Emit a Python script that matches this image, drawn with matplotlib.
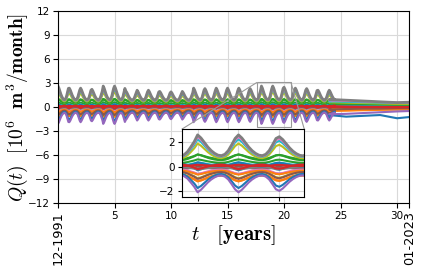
import numpy as np
import matplotlib
matplotlib.use("Agg")
import matplotlib.pyplot as plt
from mpl_toolkits.axes_grid1.inset_locator import mark_inset

plt.rcParams['mathtext.fontset'] = 'cm'

# ---- data ----
# seasonal shape within one year, month 0 = December (peak)
season_profile = [1.0, 0.86, 0.66, 0.46, 0.3, 0.18, 0.1, 0.08, 0.14, 0.3, 0.56, 0.84]
# relative strength of the seasonal swing for each year 0..23
year_scale = [1.0, 0.86, 0.86, 0.78, 1.0, 1.0, 0.67, 0.72, 0.72, 0.64, 0.61, 0.64,
              0.86, 0.83, 0.86, 0.86, 0.86, 0.83, 1.0, 1.0, 0.92, 0.86, 0.83, 0.72]
# per-series off-season level and seasonal swing (10^6 m^3/month)
series_base = [0.3, -0.6, 0.3, -0.1, -0.3, -0.2, -0.2, 0.0, -0.4, 0.1,
               0.0, -0.3, 0.6, -0.7, -0.4, 0.5,
               0.6, 0.7, 0.72, 0.76, -0.5, -0.6, 0.2, 0.05]
series_swing = [-0.6, -0.6, 0.3, 0.3, -0.3, 0.2, -0.4, -0.2, -0.55, 0.25,
                0.35, -0.35, 0.4, -0.5, -0.6, 0.5,
                1.3, 1.55, 1.72, 1.85, -1.25, -1.5, -0.4, 0.1]
series_color = ['C0', 'C1', 'C2', 'C3', 'C4', 'C5', 'C6', 'C7', 'C8', 'C9',
                'C0', 'C1', 'C2', 'C1', 'C5', 'C2',
                'C8', 'C9', 'C6', 'C7', 'C0', 'C4', 'C3', 'C3']
# late period (no seasonal swing) values at tail_years
tail_years = [24.0, 25.5, 27.0, 28.5, 30.0, 31.0833]
tail_values = [
    [0.2, 0.15, 0.1, 0.1, 0.05, 0.05],
    [-0.4, -0.4, -0.35, -0.3, -0.3, -0.25],
    [0.3, 0.25, 0.25, 0.2, 0.2, 0.2],
    [-0.05, -0.05, 0.0, 0.0, 0.0, 0.0],
    [-0.25, -0.2, -0.2, -0.15, -0.15, -0.1],
    [-0.15, -0.1, -0.1, -0.1, -0.05, -0.05],
    [-0.2, -0.15, -0.15, -0.1, -0.1, -0.1],
    [0.0, 0.0, 0.0, 0.0, 0.0, 0.0],
    [-0.35, -0.3, -0.3, -0.25, -0.2, -0.2],
    [0.1, 0.1, 0.05, 0.05, 0.05, 0.05],
    [0.0, 0.05, 0.05, 0.0, 0.0, 0.0],
    [-0.25, -0.2, -0.2, -0.15, -0.15, -0.15],
    [0.55, 0.5, 0.45, 0.4, 0.35, 0.35],
    [-0.5, -0.45, -0.4, -0.35, -0.3, -0.3],
    [-0.3, -0.25, -0.2, -0.2, -0.15, -0.15],
    [0.45, 0.4, 0.4, 0.35, 0.3, 0.3],
    [0.6, 0.55, 0.5, 0.45, 0.4, 0.4],
    [0.7, 0.65, 0.6, 0.55, 0.5, 0.5],
    [0.85, 0.75, 0.7, 0.6, 0.55, 0.55],
    [0.95, 0.85, 0.75, 0.65, 0.55, 0.6],
    [-1.0, -1.2, -1.1, -1.0, -1.4, -1.25],
    [-0.9, -0.85, -0.75, -0.65, -0.55, -0.5],
    [0.1, 0.05, 0.0, 0.0, -0.05, 0.0],
    [0.05, 0.0, 0.0, 0.0, 0.0, 0.0],
]
x_tick_vals = [0, 5, 10, 15, 20, 25, 30, 31.0833]
x_tick_labels = ['12-1991', '5', '10', '15', '20', '25', '30', '01-2023']

# ---- build series ----
n_months = len(year_scale) * 12 + 7
t_season = np.arange(n_months) / 12.0
prof = np.array(season_profile)
ys = np.array(year_scale + [year_scale[-1]])

fig = plt.figure(figsize=(4.25, 2.71), dpi=100)
ax = fig.add_axes([0.1365, 0.2497, 0.8266, 0.7108])
axins = fig.add_axes([0.4275, 0.272, 0.2885, 0.251])

for b, s, c, tail in zip(series_base, series_swing, series_color, tail_values):
    m = np.arange(n_months)
    yv = b + s * ys[m // 12] * prof[m % 12]
    x = np.concatenate([t_season, tail_years])
    y = np.concatenate([yv, tail])
    lw = 2.0 if c == 'C7' else 1.5
    ax.plot(x, y, color=c, lw=lw)
    axins.plot(x, y, color=c, lw=lw)

ax.set_xlim(0, 31.0833)
ax.set_ylim(-12, 12)
ax.set_yticks(np.arange(-12, 13, 3))
ax.set_xticks(x_tick_vals)
ax.set_xticklabels(x_tick_labels)
ax.tick_params(labelsize=7.5, length=3.5, pad=2)
labs = ax.get_xticklabels()
for k in (0, -1):
    labs[k].set_rotation(90)
    labs[k].set_fontsize(9.3)
ax.grid(True, color='0.85', lw=0.8)
ax.set_axisbelow(True)
ax.set_xlabel(r'$t\quad[\mathbf{years}]$', fontsize=15, va='center')
ax.xaxis.set_label_coords(0.5, -0.165)
ax.set_ylabel(r'$Q(t)\ \ [10^6\ \ \mathbf{m}^3/\mathbf{month}]$', fontsize=14, va='center')
ax.yaxis.set_label_coords(-0.115, 0.5)

axins.set_xlim(17.61, 20.61)
axins.set_ylim(-2.51, 3.07)
axins.set_xticks([18, 19, 20])
axins.set_xticklabels([])
axins.set_yticks([-2, 0, 2])
axins.tick_params(labelsize=7.5, length=3, pad=2)
axins.grid(True, color='0.85', lw=0.8)
axins.set_axisbelow(True)

mark_inset(ax, axins, loc1=2, loc2=1, fc='none', ec='0.6', lw=0.8)

fig.savefig('out.png', dpi=100)
